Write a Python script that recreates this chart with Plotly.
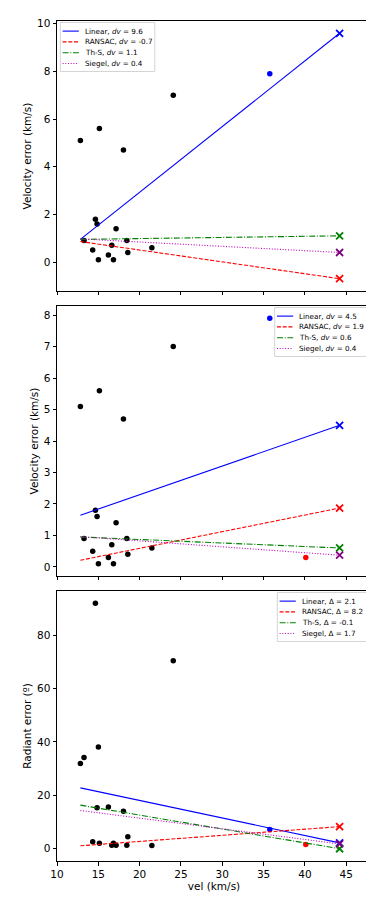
import plotly.graph_objects as go

# meteor velocities (km/s) of the black points
vel = [12.83, 13.27, 14.32, 14.65, 14.85, 15.01, 15.13, 16.22,
       16.63, 16.83, 17.15, 18.04, 18.45, 18.57, 21.48, 24.07]
# velocity error (km/s)
vel_err = [5.1, 0.9, 0.5, 1.8, 1.6, 0.1, 5.6, 0.3,
           0.7, 0.1, 1.4, 4.7, 0.9, 0.4, 0.6, 7.0]
# radiant error (deg)
rad_err = [31.9, 34.1, 2.5, 92.0, 15.25, 38.1, 2.0, 15.6,
           1.25, 2.0, 1.25, 14.0, 1.25, 4.4, 1.1, 70.4]

# extra coloured points
blue_pt = (35.75, 7.9, 7.1)     # vel, vel err, radiant err
red_pt = (40.11, 0.3, 1.5)

# fit lines: value at the smallest velocity and at the prediction velocity
x_fit = [12.83, 44.2]
methods = ["Linear", "RANSAC", "Th-S", "Siegel"]
fit1 = {"Linear": [0.95, 9.6], "RANSAC": [0.86, -0.7], "Th-S": [0.95, 1.1], "Siegel": [0.97, 0.4]}
fit2 = {"Linear": [1.64, 4.5], "RANSAC": [0.21, 1.87], "Th-S": [0.95, 0.6], "Siegel": [0.96, 0.37]}
fit3 = {"Linear": [22.75, 2.1], "RANSAC": [1.0, 8.2], "Th-S": [16.25, -0.1], "Siegel": [14.25, 1.7]}
labels1 = ["9.6", "-0.7", "1.1", "0.4"]
labels2 = ["4.5", "1.9", "0.6", "0.4"]
labels3 = ["2.1", "8.2", "-0.1", "1.7"]

line_col = {"Linear": "#0000ff", "RANSAC": "#ff0000", "Th-S": "#008000", "Siegel": "#bf00bf"}
x_col = {"Linear": "#0000ff", "RANSAC": "#ff0000", "Th-S": "#008000", "Siegel": "#800080"}
dashes = {"Linear": "solid", "RANSAC": "4px,1.7px", "Th-S": "6px,1.7px,1px,1.7px", "Siegel": "1px,1.7px"}

FONT = "DejaVu Sans"
PW, PH = 314, 270          # size of one panel in px
fig = go.Figure()


def add_legend(row, texts, left, width):
    """matplotlib-like compact legend, drawn inside the panel (px offsets)."""
    xr = "x domain" if row == 1 else f"x{row} domain"
    yr = "y domain" if row == 1 else f"y{row} domain"
    top = 1.5
    fig.add_shape(type="rect", xref=xr, yref=yr, layer="above",
                  x0=left / PW, x1=(left + width) / PW,
                  y0=1 - top / PH, y1=1 - (top + 49) / PH,
                  fillcolor="rgba(255,255,255,0.8)", line=dict(color="#d4d4d4", width=1))
    for i, (m, t) in enumerate(zip(methods, texts)):
        yy = 1 - (top + 8.6 + i * 10.8) / PH
        fig.add_shape(type="line", xref=xr, yref=yr, layer="above",
                      x0=(left + 2.3) / PW, x1=(left + 18.5) / PW, y0=yy, y1=yy,
                      line=dict(color=line_col[m], width=1.1, dash=dashes[m]))
        fig.add_annotation(xref=xr, yref=yr, x=(left + 22.5) / PW, y=yy, text=t,
                           showarrow=False, xanchor="left", yanchor="middle",
                           font=dict(family=FONT, size=7.2, color="black"))


def add_panel(row, y_black, fits, labels, sym, extra, leg_left, leg_w):
    xa = "x" if row == 1 else f"x{row}"
    ya = "y" if row == 1 else f"y{row}"
    fig.add_trace(go.Scatter(x=vel, y=y_black, mode="markers", xaxis=xa, yaxis=ya,
                             marker=dict(color="black", size=5.5), showlegend=False))
    for xv, yv, c in extra:
        fig.add_trace(go.Scatter(x=[xv], y=[yv], mode="markers", xaxis=xa, yaxis=ya,
                                 marker=dict(color=c, size=5.5), showlegend=False))
    for m in methods:
        fig.add_trace(go.Scatter(
            x=x_fit, y=fits[m], mode="lines", xaxis=xa, yaxis=ya,
            line=dict(color=line_col[m], width=1.1, dash=dashes[m]), showlegend=False))
    for m in methods:
        fig.add_trace(go.Scatter(
            x=[x_fit[1]], y=[fits[m][1]], mode="markers", xaxis=xa, yaxis=ya,
            marker=dict(symbol="x-thin", size=7, line=dict(color=x_col[m], width=1.8)),
            showlegend=False))
    add_legend(row, [f"{m}, {sym} = {lab}" for m, lab in zip(methods, labels)], leg_left, leg_w)


add_panel(1, vel_err, fit1, labels1, "<i>dv</i>",
          [(blue_pt[0], blue_pt[1], "#0000ff")], 3.3, 94.5)
add_panel(2, vel_err, fit2, labels2, "<i>dv</i>",
          [(blue_pt[0], blue_pt[1], "#0000ff"), (red_pt[0], red_pt[1], "#ff0000")], 217.7, 92.3)
add_panel(3, rad_err, fit3, labels3, "Δ",
          [(blue_pt[0], blue_pt[2], "#0000ff"), (red_pt[0], red_pt[2], "#ff0000")], 220.3, 89.7)

ax = dict(showline=True, linecolor="black", linewidth=1, mirror=True, automargin=False,
          ticks="outside", ticklen=3.5, tickcolor="black", showgrid=False, zeroline=False,
          tickfont=dict(family=FONT, size=10.5, color="black"))
tfont = dict(family=FONT, size=10.5, color="black")

fig.update_layout(
    width=374, height=897,
    margin=dict(l=49, r=11, t=13, b=44),
    plot_bgcolor="white", paper_bgcolor="white",
    font=dict(family=FONT, color="black"),
    showlegend=False,
    xaxis=dict(ax, domain=[0, 1], range=[10, 48], dtick=5, showticklabels=False, anchor="y"),
    xaxis2=dict(ax, domain=[0, 1], range=[10, 48], dtick=5, showticklabels=False, anchor="y2"),
    xaxis3=dict(ax, domain=[0, 1], range=[10, 48], dtick=5, anchor="y3",
                title=dict(text="vel (km/s)", font=tfont, standoff=3)),
    yaxis=dict(ax, domain=[0.6786, 1.0], range=[-1.215, 10.115], dtick=2, anchor="x",
               title=dict(text="Velocity error (km/s)", font=tfont, standoff=3)),
    yaxis2=dict(ax, domain=[0.3393, 0.6607], range=[-0.29, 8.29], dtick=1, anchor="x2",
                title=dict(text="Velocity error (km/s)", font=tfont, standoff=3)),
    yaxis3=dict(ax, domain=[0.0, 0.3214], range=[-4.7, 96.6], dtick=20, anchor="x3",
                title=dict(text="Radiant error (º)", font=tfont, standoff=3)),
)

fig.write_html("out.html")
